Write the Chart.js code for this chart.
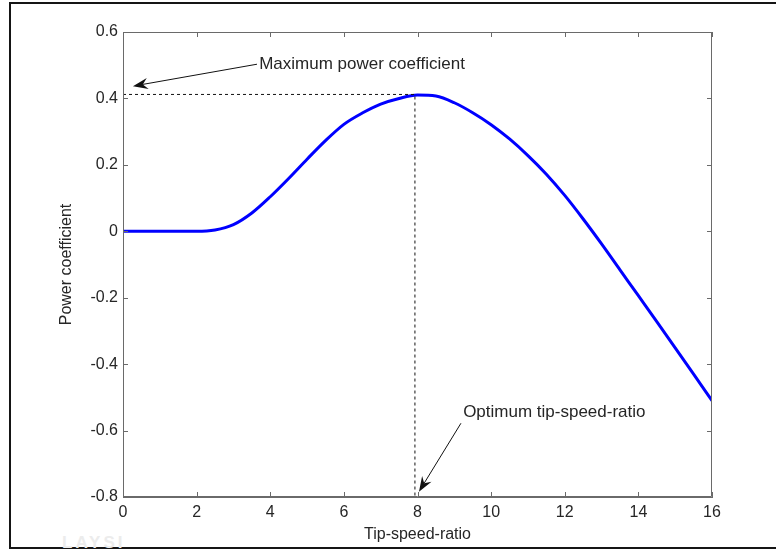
<!DOCTYPE html>
<html>
<head>
<meta charset="utf-8">
<script src="https://cdn.jsdelivr.net/npm/chart.js@4/dist/chart.umd.min.js"></script>
<style>
  html, body { margin: 0; padding: 0; background: #fff; overflow: hidden; }
  #wrap { position: relative; width: 776px; height: 549px; }
  #frame { position: absolute; left: 9px; top: 2px; width: 800px; height: 543px; border: 2px solid #151515; }
  #mark { position: absolute; left: 62px; top: 533px; font: bold 17px "Liberation Sans", Arial, sans-serif; color: #ececec; letter-spacing: 3px; }
  canvas { position: absolute; left: 0; top: 0; }
</style>
</head>
<body>
<div id="wrap">
  <div id="frame"></div>
  <div id="mark">LAYSI</div>
  <canvas id="cpChart" width="776" height="549"></canvas>
</div>
<script>
// tip-speed-ratio and power coefficient
const tsr = [0, 1, 2, 2.5, 3, 3.5, 4, 4.5, 5, 5.5, 6, 6.5, 7, 7.5, 8, 8.5, 9, 9.5, 10, 10.5, 11, 11.5, 12, 12.5, 13, 13.5, 14, 14.5, 15, 15.5, 16];
const cp  = [0, 0, 0, 0.004, 0.02, 0.055, 0.104, 0.159, 0.217, 0.273, 0.322, 0.356, 0.383, 0.4, 0.41, 0.407, 0.387, 0.357, 0.321, 0.278, 0.228, 0.172, 0.108, 0.037, -0.038, -0.116, -0.194, -0.272, -0.351, -0.43, -0.51];

// optimum point (dashed guides)
const peakX = 7.93;
const peakY = 0.412;

// axes
const xTicks = [0, 2, 4, 6, 8, 10, 12, 14, 16];
const yTicks = [-0.8, -0.6, -0.4, -0.2, 0, 0.2, 0.4, 0.6];

// annotations: text anchor and arrow (from -> tip) in data units
const annotations = [
  { text: 'Maximum power coefficient', tx: 3.7, ty: 0.503, from: [3.64, 0.503], tip: [0.27, 0.437] },
  { text: 'Optimum tip-speed-ratio',   tx: 9.24, ty: -0.545, from: [9.18, -0.578], tip: [8.04, -0.784] }
];

const FONT = '"Liberation Sans", Arial, Helvetica, sans-serif';
const AXIS = '#6a6a6a';
const TEXT = '#262626';

const curve = tsr.map((x, i) => ({ x: x, y: cp[i] }));
const guides = [{ x: xTicks[0], y: peakY }, { x: peakX, y: peakY }, { x: peakX, y: yTicks[0] }];

// box around the axes + inward ticks on all four sides
const boxPlugin = {
  id: 'box',
  afterDraw(chart) {
    const { ctx, chartArea: a, scales: { x, y } } = chart;
    ctx.save();
    ctx.strokeStyle = AXIS;
    ctx.lineWidth = 1;
    ctx.beginPath();
    ctx.rect(a.left + 0.5, a.top + 0.5, a.right - a.left - 1, a.bottom - a.top - 1);
    const len = 5;
    xTicks.forEach(v => {
      const px = Math.round(x.getPixelForValue(v)) + 0.5;
      ctx.moveTo(px, a.bottom); ctx.lineTo(px, a.bottom - len);
      ctx.moveTo(px, a.top); ctx.lineTo(px, a.top + len);
    });
    yTicks.forEach(v => {
      const py = Math.round(y.getPixelForValue(v)) + 0.5;
      ctx.moveTo(a.left, py); ctx.lineTo(a.left + len, py);
      ctx.moveTo(a.right, py); ctx.lineTo(a.right - len, py);
    });
    ctx.stroke();
    ctx.restore();
  }
};

// text + arrows
const notePlugin = {
  id: 'notes',
  afterDraw(chart) {
    const { ctx, scales: { x, y } } = chart;
    ctx.save();
    annotations.forEach(n => {
      ctx.font = '17px ' + FONT;
      ctx.fillStyle = TEXT;
      ctx.textAlign = 'left';
      ctx.textBaseline = 'middle';
      ctx.fillText(n.text, x.getPixelForValue(n.tx), y.getPixelForValue(n.ty));

      const x0 = x.getPixelForValue(n.from[0]), y0 = y.getPixelForValue(n.from[1]);
      const x1 = x.getPixelForValue(n.tip[0]), y1 = y.getPixelForValue(n.tip[1]);
      const ang = Math.atan2(y1 - y0, x1 - x0);
      const L = 15, W = 5.5, back = 10;
      ctx.strokeStyle = '#111';
      ctx.lineWidth = 1;
      ctx.beginPath();
      ctx.moveTo(x0, y0);
      ctx.lineTo(x1 - back * Math.cos(ang), y1 - back * Math.sin(ang));
      ctx.stroke();
      // filled head with notched back
      const bx = x1 - L * Math.cos(ang), by = y1 - L * Math.sin(ang);
      const nx = -Math.sin(ang), ny = Math.cos(ang);
      ctx.fillStyle = '#111';
      ctx.beginPath();
      ctx.moveTo(x1, y1);
      ctx.lineTo(bx + nx * W, by + ny * W);
      ctx.lineTo(x1 - back * Math.cos(ang), y1 - back * Math.sin(ang));
      ctx.lineTo(bx - nx * W, by - ny * W);
      ctx.closePath();
      ctx.fill();
    });
    ctx.restore();
  }
};

const ctx = document.getElementById('cpChart').getContext('2d');
new Chart(ctx, {
  type: 'scatter',
  data: {
    datasets: [
      {
        data: guides,
        showLine: true,
        borderColor: '#111',
        borderWidth: 1,
        borderDash: [3, 3],
        pointRadius: 0,
        tension: 0
      },
      {
        data: curve,
        showLine: true,
        borderColor: '#0000ff',
        borderWidth: 3,
        pointRadius: 0,
        cubicInterpolationMode: 'monotone'
      }
    ]
  },
  options: {
    responsive: false,
    animation: false,
    events: [],
    layout: { padding: { top: 32, right: 64, left: 0, bottom: 0 } },
    plugins: { legend: { display: false }, tooltip: { enabled: false } },
    scales: {
      x: {
        type: 'linear',
        min: 0, max: 16,
        afterBuildTicks: s => { s.ticks = xTicks.map(v => ({ value: v })); },
        afterFit: s => { s.height = 52; },
        grid: { drawOnChartArea: false, drawTicks: false },
        border: { color: AXIS, width: 1 },
        ticks: { color: TEXT, font: { family: FONT, size: 16 }, padding: 6, maxRotation: 0,
                 callback: v => String(v) },
        title: { display: true, text: 'Tip-speed-ratio', color: TEXT,
                 font: { family: FONT, size: 16 }, padding: { top: 0, bottom: 5 } }
      },
      y: {
        type: 'linear',
        min: -0.8, max: 0.6,
        afterBuildTicks: s => { s.ticks = yTicks.map(v => ({ value: v })); },
        afterFit: s => { s.width = 123; },
        grid: { drawOnChartArea: false, drawTicks: false },
        border: { color: AXIS, width: 1 },
        ticks: { color: TEXT, font: { family: FONT, size: 16 }, padding: 5,
                 callback: v => String(Math.round(v * 10) / 10) },
        title: { display: true, text: 'Power coefficient', color: TEXT,
                 font: { family: FONT, size: 16 }, padding: { top: 57, bottom: 0 } }
      }
    }
  },
  plugins: [boxPlugin, notePlugin]
});
</script>
</body>
</html>
